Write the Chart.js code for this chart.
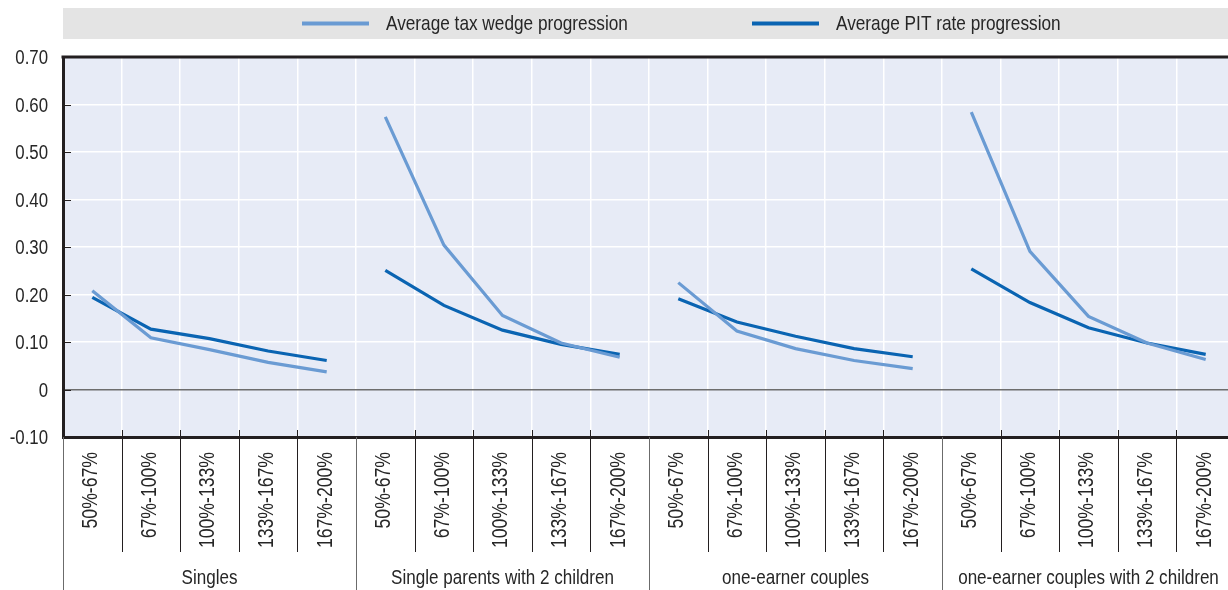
<!DOCTYPE html>
<html>
<head>
<meta charset="utf-8">
<script src="https://cdn.jsdelivr.net/npm/chart.js@4.4.1/dist/chart.umd.min.js"></script>
<style>
  html, body { margin: 0; padding: 0; background: #fff; overflow: hidden; }
  #wrap { width: 1236px; height: 590px; position: relative; }
</style>
</head>
<body>
<div id="wrap"><canvas id="chart"></canvas></div>
<script>
const BANDS = ['50%-67%', '67%-100%', '100%-133%', '133%-167%', '167%-200%'];
const GROUPS = ['Singles', 'Single parents with 2 children', 'one-earner couples', 'one-earner couples with 2 children'];

// one value per band, groups in the order of GROUPS
const TAX_WEDGE = [
  0.208, 0.109, 0.084, 0.057, 0.037,
  0.574, 0.304, 0.156, 0.098, 0.068,
  0.225, 0.123, 0.086, 0.061, 0.044,
  0.584, 0.291, 0.154, 0.098, 0.063,
];
const PIT_RATE = [
  0.194, 0.127, 0.107, 0.081, 0.061,
  0.251, 0.177, 0.125, 0.095, 0.074,
  0.191, 0.142, 0.112, 0.086, 0.069,
  0.254, 0.183, 0.130, 0.098, 0.074,
];

const Y_MIN = -0.1;
const Y_MAX = 0.7;
const Y_STEP = 0.1;

// no narrow face installed: squeeze Liberation Sans (Arial metrics) like Arial Narrow
const FONT = "'Liberation Sans', Arial, sans-serif";
const SQUEEZE = 0.82;
const INK = '#231f20';
const TEXT = '#262626';
const LIGHT = '#6a9bd3';
const DARK = '#0a64b2';

const labels = GROUPS.flatMap(() => BANDS);

// hide the segment that would join the last band of a group to the first of the next
const groupGap = (c) => (c.p0DataIndex % BANDS.length === BANDS.length - 1 ? 'rgba(0,0,0,0)' : undefined);

function series(label, data, color) {
  return {
    label,
    data,
    borderColor: color,
    backgroundColor: color,
    borderWidth: 3.2,
    pointRadius: 0,
    tension: 0,
    segment: { borderColor: groupGap },
  };
}

function narrowText(ctx, text, x, y, size, align, angle = 0) {
  ctx.save();
  ctx.translate(x, y);
  if (angle) ctx.rotate(angle);
  ctx.scale(SQUEEZE, 1);
  ctx.font = `${size}px ${FONT}`;
  ctx.fillStyle = TEXT;
  ctx.textAlign = align;
  ctx.textBaseline = 'middle';
  ctx.fillText(text, 0, 0);
  ctx.restore();
}

const LEGEND_X = [302, 752];

const frame = {
  id: 'frame',
  beforeDraw(chart) {
    const { ctx, chartArea: a } = chart;
    ctx.save();
    ctx.fillStyle = '#e7ebf6';
    ctx.fillRect(a.left, a.top, a.right - a.left, a.bottom - a.top);

    // legend band
    ctx.fillStyle = '#e4e4e4';
    ctx.fillRect(a.left, 8, chart.width - a.left, 31);
    chart.data.datasets.forEach((ds, i) => {
      const x = LEGEND_X[i];
      ctx.strokeStyle = ds.borderColor;
      ctx.lineWidth = 4;
      ctx.beginPath();
      ctx.moveTo(x, 23.5);
      ctx.lineTo(x + 67, 23.5);
      ctx.stroke();
      narrowText(ctx, ds.label, x + 84, 24.5, 21, 'left');
    });
    ctx.restore();
  },
  afterDraw(chart) {
    const { ctx, chartArea: a } = chart;
    const xs = chart.scales.x;
    const ys = chart.scales.y;
    ctx.save();

    // top frame line
    ctx.strokeStyle = INK;
    ctx.lineWidth = 3;
    ctx.beginPath();
    ctx.moveTo(a.left - 1.5, a.top);
    ctx.lineTo(a.right, a.top);
    ctx.stroke();

    // value axis: small inner ticks and labels
    ctx.lineWidth = 1;
    ys.ticks.forEach((t) => {
      const y = Math.round(ys.getPixelForValue(t.value)) + 0.5;
      ctx.beginPath();
      ctx.moveTo(a.left, y);
      ctx.lineTo(a.left + 8, y);
      ctx.stroke();
      const txt = Math.abs(t.value) < 1e-9 ? '0' : t.value.toFixed(2);
      narrowText(ctx, txt, a.left - 15, y + 0.5, 20.5, 'right');
    });

    // band separators below the axis
    const n = labels.length;
    for (let i = 0; i <= n; i++) {
      const x = Math.round(xs.getPixelForValue(i - 0.5)) + 0.5;
      ctx.beginPath();
      if (i % BANDS.length === 0) {
        ctx.strokeStyle = '#6b6b6b';
        ctx.moveTo(x, a.bottom);
        ctx.lineTo(x, chart.height);
      } else {
        ctx.strokeStyle = INK;
        ctx.moveTo(x, a.bottom - 7);
        ctx.lineTo(x, a.bottom + 115);
      }
      ctx.stroke();
    }

    // band labels, read bottom to top
    labels.forEach((lab, i) => {
      narrowText(ctx, lab, xs.getPixelForValue(i) - 1, a.bottom + 15, 21.5, 'right', -Math.PI / 2);
    });

    // group titles
    GROUPS.forEach((g, gi) => {
      const mid = gi * BANDS.length + (BANDS.length - 1) / 2;
      narrowText(ctx, g, xs.getPixelForValue(mid), 578, 20.8, 'center');
    });
    ctx.restore();
  },
};

new Chart(document.getElementById('chart'), {
  type: 'line',
  data: {
    labels,
    datasets: [
      series('Average tax wedge progression', TAX_WEDGE, LIGHT),
      series('Average PIT rate progression', PIT_RATE, DARK),
    ],
  },
  options: {
    responsive: true,
    maintainAspectRatio: false,
    animation: false,
    layout: { padding: { top: 57, left: 0, right: 1, bottom: 0 } },
    plugins: { legend: { display: false }, tooltip: { enabled: false } },
    scales: {
      x: {
        offset: true,
        afterFit: (s) => { s.height = 153; },
        grid: { offset: true, color: '#ffffff', lineWidth: 1.5, drawTicks: false },
        border: { display: true, color: INK, width: 3 },
        ticks: { display: false, autoSkip: false },
      },
      y: {
        min: Y_MIN,
        max: Y_MAX,
        afterFit: (s) => { s.width = 63; },
        grid: {
          drawTicks: false,
          color: (c) => (Math.abs(c.tick.value) < 1e-9 ? '#6d6d6d' : '#ffffff'),
          lineWidth: 1.5,
        },
        border: { display: true, color: INK, width: 3 },
        ticks: { display: false, stepSize: Y_STEP },
      },
    },
  },
  plugins: [frame],
});
</script>
</body>
</html>
